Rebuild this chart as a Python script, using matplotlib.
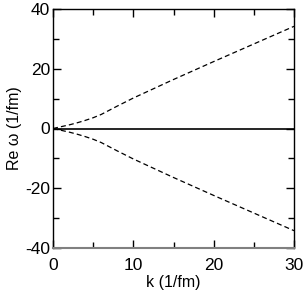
import numpy as np
import matplotlib
matplotlib.use("Agg")
import matplotlib.pyplot as plt
from matplotlib.ticker import MultipleLocator

plt.rcParams['font.family'] = ['Liberation Sans', 'DejaVu Sans']
plt.rcParams['axes.unicode_minus'] = False

k = [0, 1, 2, 3, 4, 5, 6, 7, 8, 10, 15, 20, 25, 30]
upper = [0, 0.6, 1.2, 1.9, 2.7, 3.6, 4.7, 6.1, 7.5, 10.2, 16.4, 22.4, 28.3, 34.2]
lower = [0, -0.6, -1.2, -1.9, -2.7, -3.6, -4.7, -6.1, -7.5, -10.2, -16.4, -22.4, -28.3, -34.2]

fig = plt.figure(figsize=(3.03, 2.90), dpi=100)
ax = fig.add_axes([53 / 303, 42 / 290, 241 / 303, 239 / 290])

ax.axhline(0, color='black', lw=1.2)
ax.plot(k, upper, color='black', lw=0.9, ls=(0, (4, 2.5)))
ax.plot(k, lower, color='black', lw=0.9, ls=(0, (4, 2.5)))

ax.set_xlim(0, 30)
ax.set_ylim(-40, 40)
ax.xaxis.set_major_locator(MultipleLocator(10))
ax.xaxis.set_minor_locator(MultipleLocator(5))
ax.yaxis.set_major_locator(MultipleLocator(20))
ax.yaxis.set_minor_locator(MultipleLocator(10))
ax.tick_params(which='both', direction='in', top=True, right=True, labelsize=12.5, width=1)
ax.tick_params(which='major', length=6, pad=2)
ax.tick_params(which='minor', length=4)
ax.tick_params(axis='x', which='major', pad=7)
for s in ax.spines.values():
    s.set_linewidth(1)
ax.spines['bottom'].set_color('#808080')
ax.spines['bottom'].set_linewidth(1.5)

ax.set_xlabel('k (1/fm)', fontsize=11.5, labelpad=2)
ax.set_ylabel('Re \u03c9 (1/fm)', fontsize=11.5, labelpad=2)

fig.savefig('out.png', dpi=100)
